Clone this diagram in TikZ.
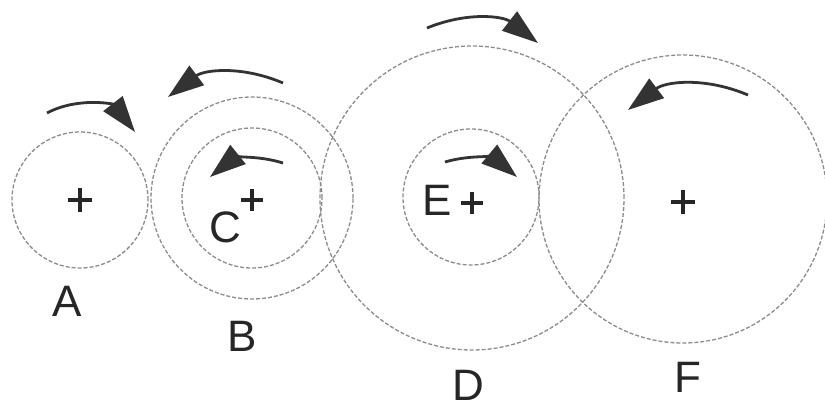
\documentclass[tikz,border=0pt]{standalone}
\usepackage{fontspec}
\setmainfont{Liberation Sans}
\usetikzlibrary{arrows.meta}
\begin{document}
\begin{tikzpicture}[x=1pt,y=-1pt,
  wheel/.style={circle,draw=black!45,line width=1.3pt,dash pattern=on 4pt off 2pt,inner sep=0pt,minimum size=#1},
  lbl/.style={inner sep=0pt,font=\fontsize{44}{44}\selectfont,text=black!85},
  rot/.style={line width=2.8pt,draw=black!80,-{Triangle[length=36pt,width=24pt]}},
  crossmark/.style={line width=3.4pt,draw=black!85}]
\useasboundingbox[fill=white] (0,0) rectangle (825,409);
% wheels
\node[wheel=136pt] (A) at (80,200) {};
\node[wheel=202pt] (B) at (252,198) {};
\node[wheel=140pt] (C) at (252,198) {};
\node[wheel=304pt] (D) at (472,198) {};
\node[wheel=136pt] (E) at (471,197) {};
\node[wheel=288pt] (F) at (683,199) {};
% centre marks
\draw[crossmark] (68,200) -- (92,200) (80,188) -- (80,212);
\draw[crossmark] (241,200) -- (263,200) (252,189) -- (252,211);
\draw[crossmark] (461,203) -- (483,203) (472,192) -- (472,214);
\draw[crossmark] (671,202) -- (695,202) (683,190) -- (683,214);
% labels
\node[lbl] (lA) at (67,301) {A};
\node[lbl] (lB) at (242,336) {B};
\node[lbl] (lC) at (225,227) {C};
\node[lbl] (lD) at (468,385) {D};
\node[lbl] (lE) at (437,200) {E};
\node[lbl] (lF) at (688,377) {F};
% rotation arrows
\coordinate (a1) at (47,113); \coordinate (a2) at (135,132);
\coordinate (b1) at (283,83); \coordinate (b2) at (168,97);
\coordinate (c1) at (283,163); \coordinate (c2) at (210,177);
\coordinate (d1) at (427,28); \coordinate (d2) at (538,43);
\coordinate (e1) at (445,162); \coordinate (e2) at (517,177);
\coordinate (f1) at (748,95); \coordinate (f2) at (628,110);
\draw[rot] (a1) to[bend left=40] (a2);
\draw[rot] (b1) to[bend right=30] (b2);
\draw[rot] (c1) to[bend right=28] (c2);
\draw[rot] (d1) to[bend left=30] (d2);
\draw[rot] (e1) to[bend left=28] (e2);
\draw[rot] (f1) to[bend right=30] (f2);
\end{tikzpicture}
\end{document}
